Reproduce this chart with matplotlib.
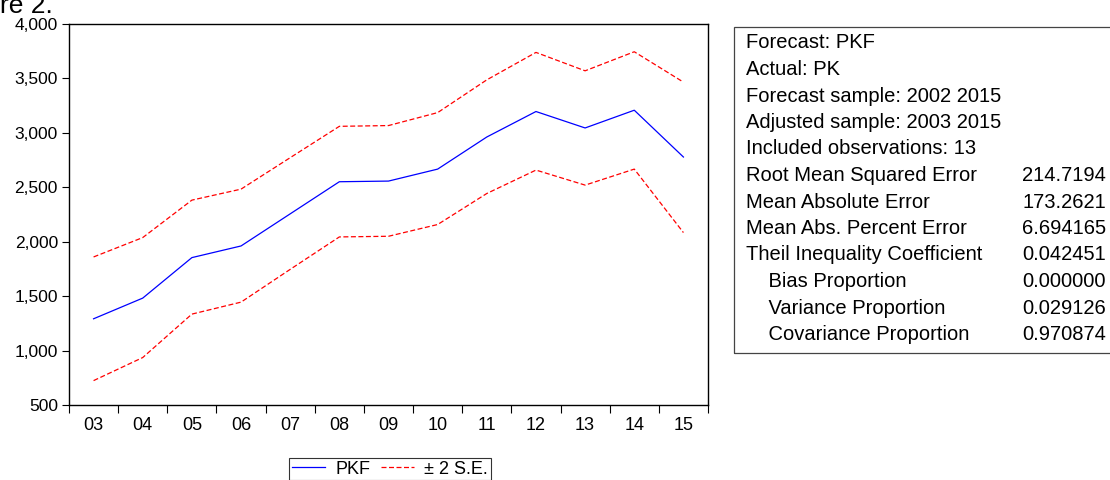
import numpy as np
import matplotlib.pyplot as plt
from matplotlib.patches import Rectangle
from matplotlib.ticker import FuncFormatter

plt.rcParams['font.family'] = ['Liberation Sans', 'DejaVu Sans']

years = ['03', '04', '05', '06', '07', '08', '09', '10', '11', '12', '13', '14', '15']
pkf = [1292, 1482, 1854, 1961, 2256, 2551, 2557, 2667, 2962, 3196, 3045, 3208, 2778]
upper = [1860, 2038, 2382, 2483, 2772, 3060, 3067, 3186, 3487, 3739, 3570, 3745, 3466]
lower = [724, 936, 1335, 1445, 1746, 2044, 2050, 2158, 2443, 2658, 2520, 2667, 2084]

stat_names = ['Root Mean Squared Error', 'Mean Absolute Error', 'Mean Abs. Percent Error',
              'Theil Inequality Coefficient', '    Bias Proportion', '    Variance Proportion',
              '    Covariance Proportion']
stat_values = ['214.7194', '173.2621', '6.694165', '0.042451', '0.000000', '0.029126', '0.970874']
header_lines = ['Forecast: PKF', 'Actual: PK', 'Forecast sample: 2002 2015',
                'Adjusted sample: 2003 2015', 'Included observations: 13']

fig = plt.figure(figsize=(11.1, 4.8), dpi=100)
ax = fig.add_axes([69/1110, 1-405/480, (708-69)/1110, (405-24)/480])

x = np.arange(len(years))
l1, = ax.plot(x, pkf, color='#0000ff', lw=0.9)
l2, = ax.plot(x, upper, color='#ff0000', lw=0.9, ls=(0, (4, 2)))
ax.plot(x, lower, color='#ff0000', lw=0.9, ls=(0, (4, 2)))

ax.set_xlim(-0.5, len(years) - 0.5)
ax.set_ylim(500, 4000)
ax.set_yticks(np.arange(500, 4001, 500))
ax.yaxis.set_major_formatter(FuncFormatter(lambda v, p: f'{int(v):,}'))
ax.set_xticks(np.arange(-0.5, len(years), 1.0))
ax.set_xticklabels([])
ax.set_xticks(x, minor=True)
ax.set_xticklabels(years, minor=True)
ax.tick_params(axis='x', which='major', length=6, width=0.8, direction='out')
ax.tick_params(axis='x', which='minor', length=0, pad=9, labelsize=13)
ax.tick_params(axis='y', length=5, width=0.8, labelsize=12.5, pad=3)
for s in ax.spines.values():
    s.set_linewidth(1.0)

fig.text(0.0, 1 - 13/480, 're 2.', fontsize=19, ha='left', va='baseline')

# statistics box
fig.patches.append(Rectangle((734/1110, 1-353/480), 0.5, (353-27)/480,
                             transform=fig.transFigure, fill=False, ec='#444444', lw=0.9))
lines = header_lines + stat_names
for i, t in enumerate(lines):
    y = 1 - (43 + i*26.5)/480
    fig.text(746/1110, y, t, fontsize=14.5, va='center', ha='left')
for i, v in enumerate(stat_values):
    y = 1 - (43 + (i + len(header_lines))*26.5)/480
    fig.text(1022/1110, y, v, fontsize=14.5, va='center', ha='left')

leg = fig.legend([l1, l2], ['PKF', '± 2 S.E.'], loc='upper center', ncol=2,
                 bbox_to_anchor=(390/1110, 1-458/480), frameon=True, fancybox=False,
                 fontsize=13, handlelength=1.85, handletextpad=0.55, borderpad=0.15,
                 columnspacing=0.6, borderaxespad=0)
leg.get_frame().set_edgecolor('black')
leg.get_frame().set_linewidth(0.8)

fig.savefig('out.png', dpi=100)
